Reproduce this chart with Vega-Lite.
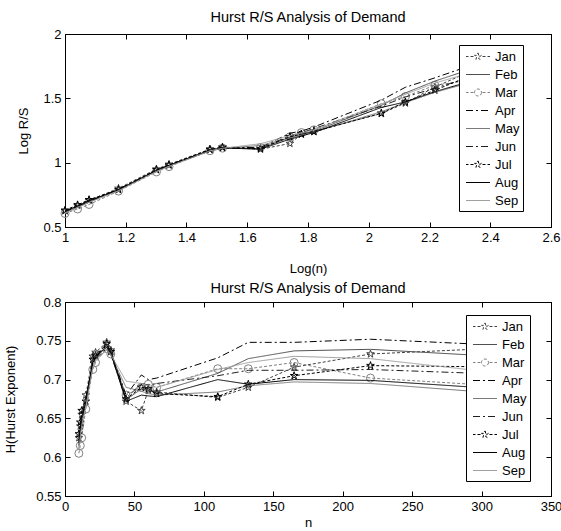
{
  "$schema": "https://vega.github.io/schema/vega-lite/v6.json",
  "padding": {"left": 3, "top": 9, "right": 0, "bottom": 0},
  "config": {
    "font": "Liberation Sans",
    "view": {"stroke": "black", "strokeWidth": 1},
    "axis": {"grid": false, "domainColor": "black", "domainWidth": 1, "tickColor": "black", "tickSize": -5, "tickWidth": 1, "labelColor": "black", "labelFontSize": 13, "labelFont": "Liberation Sans", "labelPadding": 9, "labelFlush": false, "labelOverlap": false, "titleFont": "Liberation Sans", "titleFontSize": 13, "titleFontWeight": "normal", "titleColor": "black"},
    "title": {"font": "Liberation Sans", "fontSize": 14.5, "fontWeight": "normal", "color": "black", "offset": 3, "baseline": "alphabetic"},
    "legend": {"strokeColor": "black", "fillColor": "white", "padding": 3, "rowPadding": 2, "labelOffset": 16, "symbolSize": 256, "symbolStrokeWidth": 1, "labelFontSize": 13, "labelFont": "Liberation Sans", "labelColor": "black", "zindex": 1}
  },
  "datasets": {
    "hurst": [
      {"m":"Jan","n":10,"ln":1,"h":0.625,"r":0.625},
      {"m":"Jan","n":11,"ln":1.0414,"h":0.640,"r":0.666},
      {"m":"Jan","n":12,"ln":1.0792,"h":0.655,"r":0.707},
      {"m":"Jan","n":15,"ln":1.1761,"h":0.680,"r":0.800},
      {"m":"Jan","n":20,"ln":1.301,"h":0.730,"r":0.950},
      {"m":"Jan","n":22,"ln":1.3424,"h":0.735,"r":0.987},
      {"m":"Jan","n":30,"ln":1.4771,"h":0.748,"r":1.105},
      {"m":"Jan","n":33,"ln":1.5185,"h":0.738,"r":1.121},
      {"m":"Jan","n":44,"ln":1.6435,"h":0.672,"r":1.104},
      {"m":"Jan","n":55,"ln":1.7404,"h":0.660,"r":1.149},
      {"m":"Jan","n":60,"ln":1.7782,"h":0.686,"r":1.220},
      {"m":"Jan","n":66,"ln":1.8195,"h":0.684,"r":1.245},
      {"m":"Jan","n":110,"ln":2.0414,"h":0.677,"r":1.382},
      {"m":"Jan","n":132,"ln":2.1206,"h":0.690,"r":1.463},
      {"m":"Jan","n":165,"ln":2.2175,"h":0.716,"r":1.588},
      {"m":"Jan","n":220,"ln":2.3424,"h":0.733,"r":1.717},
      {"m":"Jan","n":330,"ln":2.5185,"h":0.742,"r":1.869},
      {"m":"Feb","n":10,"ln":1,"h":0.620,"r":0.620},
      {"m":"Feb","n":11,"ln":1.0414,"h":0.636,"r":0.662},
      {"m":"Feb","n":12,"ln":1.0792,"h":0.650,"r":0.701},
      {"m":"Feb","n":15,"ln":1.1761,"h":0.672,"r":0.790},
      {"m":"Feb","n":20,"ln":1.301,"h":0.724,"r":0.942},
      {"m":"Feb","n":22,"ln":1.3424,"h":0.730,"r":0.980},
      {"m":"Feb","n":30,"ln":1.4771,"h":0.742,"r":1.096},
      {"m":"Feb","n":33,"ln":1.5185,"h":0.735,"r":1.116},
      {"m":"Feb","n":44,"ln":1.6435,"h":0.674,"r":1.108},
      {"m":"Feb","n":55,"ln":1.7404,"h":0.688,"r":1.197},
      {"m":"Feb","n":60,"ln":1.7782,"h":0.686,"r":1.220},
      {"m":"Feb","n":66,"ln":1.8195,"h":0.684,"r":1.245},
      {"m":"Feb","n":110,"ln":2.0414,"h":0.708,"r":1.445},
      {"m":"Feb","n":132,"ln":2.1206,"h":0.727,"r":1.542},
      {"m":"Feb","n":165,"ln":2.2175,"h":0.737,"r":1.634},
      {"m":"Feb","n":220,"ln":2.3424,"h":0.739,"r":1.731},
      {"m":"Feb","n":330,"ln":2.5185,"h":0.728,"r":1.833},
      {"m":"Mar","n":10,"ln":1,"h":0.605,"r":0.605},
      {"m":"Mar","n":11,"ln":1.0414,"h":0.615,"r":0.640},
      {"m":"Mar","n":12,"ln":1.0792,"h":0.625,"r":0.675},
      {"m":"Mar","n":15,"ln":1.1761,"h":0.662,"r":0.779},
      {"m":"Mar","n":20,"ln":1.301,"h":0.713,"r":0.928},
      {"m":"Mar","n":22,"ln":1.3424,"h":0.722,"r":0.969},
      {"m":"Mar","n":30,"ln":1.4771,"h":0.740,"r":1.093},
      {"m":"Mar","n":33,"ln":1.5185,"h":0.733,"r":1.113},
      {"m":"Mar","n":44,"ln":1.6435,"h":0.680,"r":1.118},
      {"m":"Mar","n":55,"ln":1.7404,"h":0.690,"r":1.201},
      {"m":"Mar","n":60,"ln":1.7782,"h":0.694,"r":1.234},
      {"m":"Mar","n":66,"ln":1.8195,"h":0.690,"r":1.255},
      {"m":"Mar","n":110,"ln":2.0414,"h":0.714,"r":1.458},
      {"m":"Mar","n":132,"ln":2.1206,"h":0.714,"r":1.514},
      {"m":"Mar","n":165,"ln":2.2175,"h":0.722,"r":1.601},
      {"m":"Mar","n":220,"ln":2.3424,"h":0.702,"r":1.644},
      {"m":"Mar","n":330,"ln":2.5185,"h":0.690,"r":1.738},
      {"m":"Apr","n":10,"ln":1,"h":0.618,"r":0.618},
      {"m":"Apr","n":11,"ln":1.0414,"h":0.634,"r":0.660},
      {"m":"Apr","n":12,"ln":1.0792,"h":0.648,"r":0.699},
      {"m":"Apr","n":15,"ln":1.1761,"h":0.676,"r":0.795},
      {"m":"Apr","n":20,"ln":1.301,"h":0.722,"r":0.939},
      {"m":"Apr","n":22,"ln":1.3424,"h":0.730,"r":0.980},
      {"m":"Apr","n":30,"ln":1.4771,"h":0.744,"r":1.099},
      {"m":"Apr","n":33,"ln":1.5185,"h":0.736,"r":1.118},
      {"m":"Apr","n":44,"ln":1.6435,"h":0.680,"r":1.118},
      {"m":"Apr","n":55,"ln":1.7404,"h":0.706,"r":1.229},
      {"m":"Apr","n":60,"ln":1.7782,"h":0.700,"r":1.245},
      {"m":"Apr","n":66,"ln":1.8195,"h":0.702,"r":1.277},
      {"m":"Apr","n":110,"ln":2.0414,"h":0.728,"r":1.486},
      {"m":"Apr","n":132,"ln":2.1206,"h":0.748,"r":1.586},
      {"m":"Apr","n":165,"ln":2.2175,"h":0.748,"r":1.659},
      {"m":"Apr","n":220,"ln":2.3424,"h":0.752,"r":1.761},
      {"m":"Apr","n":330,"ln":2.5185,"h":0.743,"r":1.871},
      {"m":"May","n":10,"ln":1,"h":0.612,"r":0.612},
      {"m":"May","n":11,"ln":1.0414,"h":0.628,"r":0.654},
      {"m":"May","n":12,"ln":1.0792,"h":0.642,"r":0.693},
      {"m":"May","n":15,"ln":1.1761,"h":0.668,"r":0.786},
      {"m":"May","n":20,"ln":1.301,"h":0.718,"r":0.934},
      {"m":"May","n":22,"ln":1.3424,"h":0.726,"r":0.975},
      {"m":"May","n":30,"ln":1.4771,"h":0.738,"r":1.090},
      {"m":"May","n":33,"ln":1.5185,"h":0.731,"r":1.110},
      {"m":"May","n":44,"ln":1.6435,"h":0.690,"r":1.134},
      {"m":"May","n":55,"ln":1.7404,"h":0.685,"r":1.192},
      {"m":"May","n":60,"ln":1.7782,"h":0.682,"r":1.213},
      {"m":"May","n":66,"ln":1.8195,"h":0.680,"r":1.237},
      {"m":"May","n":110,"ln":2.0414,"h":0.684,"r":1.396},
      {"m":"May","n":132,"ln":2.1206,"h":0.692,"r":1.467},
      {"m":"May","n":165,"ln":2.2175,"h":0.697,"r":1.546},
      {"m":"May","n":220,"ln":2.3424,"h":0.695,"r":1.628},
      {"m":"May","n":330,"ln":2.5185,"h":0.680,"r":1.713},
      {"m":"Jun","n":10,"ln":1,"h":0.615,"r":0.615},
      {"m":"Jun","n":11,"ln":1.0414,"h":0.630,"r":0.656},
      {"m":"Jun","n":12,"ln":1.0792,"h":0.645,"r":0.696},
      {"m":"Jun","n":15,"ln":1.1761,"h":0.670,"r":0.788},
      {"m":"Jun","n":20,"ln":1.301,"h":0.720,"r":0.937},
      {"m":"Jun","n":22,"ln":1.3424,"h":0.727,"r":0.976},
      {"m":"Jun","n":30,"ln":1.4771,"h":0.740,"r":1.093},
      {"m":"Jun","n":33,"ln":1.5185,"h":0.732,"r":1.112},
      {"m":"Jun","n":44,"ln":1.6435,"h":0.676,"r":1.111},
      {"m":"Jun","n":55,"ln":1.7404,"h":0.695,"r":1.210},
      {"m":"Jun","n":60,"ln":1.7782,"h":0.693,"r":1.232},
      {"m":"Jun","n":66,"ln":1.8195,"h":0.695,"r":1.265},
      {"m":"Jun","n":110,"ln":2.0414,"h":0.705,"r":1.439},
      {"m":"Jun","n":132,"ln":2.1206,"h":0.712,"r":1.510},
      {"m":"Jun","n":165,"ln":2.2175,"h":0.712,"r":1.579},
      {"m":"Jun","n":220,"ln":2.3424,"h":0.713,"r":1.670},
      {"m":"Jun","n":330,"ln":2.5185,"h":0.706,"r":1.778},
      {"m":"Jul","n":10,"ln":1,"h":0.630,"r":0.630},
      {"m":"Jul","n":11,"ln":1.0414,"h":0.645,"r":0.672},
      {"m":"Jul","n":12,"ln":1.0792,"h":0.660,"r":0.712},
      {"m":"Jul","n":15,"ln":1.1761,"h":0.672,"r":0.790},
      {"m":"Jul","n":20,"ln":1.301,"h":0.726,"r":0.945},
      {"m":"Jul","n":22,"ln":1.3424,"h":0.731,"r":0.981},
      {"m":"Jul","n":30,"ln":1.4771,"h":0.746,"r":1.102},
      {"m":"Jul","n":33,"ln":1.5185,"h":0.736,"r":1.118},
      {"m":"Jul","n":44,"ln":1.6435,"h":0.675,"r":1.109},
      {"m":"Jul","n":55,"ln":1.7404,"h":0.690,"r":1.201},
      {"m":"Jul","n":60,"ln":1.7782,"h":0.688,"r":1.223},
      {"m":"Jul","n":66,"ln":1.8195,"h":0.682,"r":1.241},
      {"m":"Jul","n":110,"ln":2.0414,"h":0.678,"r":1.384},
      {"m":"Jul","n":132,"ln":2.1206,"h":0.694,"r":1.472},
      {"m":"Jul","n":165,"ln":2.2175,"h":0.705,"r":1.563},
      {"m":"Jul","n":220,"ln":2.3424,"h":0.718,"r":1.682},
      {"m":"Jul","n":330,"ln":2.5185,"h":0.716,"r":1.803},
      {"m":"Aug","n":10,"ln":1,"h":0.622,"r":0.622},
      {"m":"Aug","n":11,"ln":1.0414,"h":0.637,"r":0.663},
      {"m":"Aug","n":12,"ln":1.0792,"h":0.652,"r":0.704},
      {"m":"Aug","n":15,"ln":1.1761,"h":0.670,"r":0.788},
      {"m":"Aug","n":20,"ln":1.301,"h":0.722,"r":0.939},
      {"m":"Aug","n":22,"ln":1.3424,"h":0.729,"r":0.979},
      {"m":"Aug","n":30,"ln":1.4771,"h":0.742,"r":1.096},
      {"m":"Aug","n":33,"ln":1.5185,"h":0.734,"r":1.115},
      {"m":"Aug","n":44,"ln":1.6435,"h":0.672,"r":1.104},
      {"m":"Aug","n":55,"ln":1.7404,"h":0.680,"r":1.183},
      {"m":"Aug","n":60,"ln":1.7782,"h":0.679,"r":1.207},
      {"m":"Aug","n":66,"ln":1.8195,"h":0.678,"r":1.234},
      {"m":"Aug","n":110,"ln":2.0414,"h":0.700,"r":1.429},
      {"m":"Aug","n":132,"ln":2.1206,"h":0.694,"r":1.472},
      {"m":"Aug","n":165,"ln":2.2175,"h":0.700,"r":1.552},
      {"m":"Aug","n":220,"ln":2.3424,"h":0.699,"r":1.637},
      {"m":"Aug","n":330,"ln":2.5185,"h":0.686,"r":1.728},
      {"m":"Sep","n":10,"ln":1,"h":0.610,"r":0.610},
      {"m":"Sep","n":11,"ln":1.0414,"h":0.625,"r":0.651},
      {"m":"Sep","n":12,"ln":1.0792,"h":0.640,"r":0.691},
      {"m":"Sep","n":15,"ln":1.1761,"h":0.665,"r":0.782},
      {"m":"Sep","n":20,"ln":1.301,"h":0.716,"r":0.932},
      {"m":"Sep","n":22,"ln":1.3424,"h":0.724,"r":0.972},
      {"m":"Sep","n":30,"ln":1.4771,"h":0.739,"r":1.092},
      {"m":"Sep","n":33,"ln":1.5185,"h":0.732,"r":1.112},
      {"m":"Sep","n":44,"ln":1.6435,"h":0.698,"r":1.147},
      {"m":"Sep","n":55,"ln":1.7404,"h":0.695,"r":1.210},
      {"m":"Sep","n":60,"ln":1.7782,"h":0.692,"r":1.231},
      {"m":"Sep","n":66,"ln":1.8195,"h":0.690,"r":1.255},
      {"m":"Sep","n":110,"ln":2.0414,"h":0.713,"r":1.456},
      {"m":"Sep","n":132,"ln":2.1206,"h":0.722,"r":1.531},
      {"m":"Sep","n":165,"ln":2.2175,"h":0.730,"r":1.619},
      {"m":"Sep","n":220,"ln":2.3424,"h":0.727,"r":1.703},
      {"m":"Sep","n":330,"ln":2.5185,"h":0.705,"r":1.776}
    ]
  },
  "data": {"name": "hurst"},
  "spacing": 4,
  "resolve": {"scale": {"color": "independent", "strokeDash": "independent", "shape": "independent"}, "legend": {"color": "independent"}},
  "vconcat": [
    {
      "width": 486,
      "height": 193,
      "title": {"text": "Hurst R/S Analysis of Demand"},
      "resolve": {"scale": {"x": "independent", "y": "independent"}},
      "layer": [
        {
          "transform": [{"filter": {"field": "m", "oneOf": ["Jan", "Mar", "Jul"]}}, {"filter": "datum.n < 300"}],
          "mark": {"type": "point", "filled": false, "strokeWidth": 1, "size": 64, "opacity": 1},
          "encoding": {
            "x": {"field": "ln", "type": "quantitative", "scale": {"domain": [1, 2.6], "nice": false, "zero": false},
                  "axis": {"orient": "top", "values": [1, 1.2, 1.4, 1.6, 1.8, 2, 2.2, 2.4, 2.6], "labels": false, "title": null}},
            "y": {"field": "r", "type": "quantitative", "scale": {"domain": [0.5, 2], "nice": false, "zero": false},
                  "axis": {"orient": "right", "values": [0.5, 1, 1.5, 2], "labels": false, "title": null}},
            "color": {"field": "m", "type": "nominal",
                      "scale": {"domain": ["Jan","Feb","Mar","Apr","May","Jun","Jul","Aug","Sep"], "range": ["#404040","#505050","#808080","#000000","#7a7a7a","#202020","#000000","#000000","#a0a0a0"]}},
            "shape": {"field": "m", "type": "nominal",
                      "scale": {"domain": ["Jan", "Mar", "Jul"], "range": ["M0,-1L0.225,-0.309L0.951,-0.309L0.363,0.118L0.588,0.809L0,0.382L-0.588,0.809L-0.363,0.118L-0.951,-0.309L-0.225,-0.309Z", "circle", "M0,-1L0.225,-0.309L0.951,-0.309L0.363,0.118L0.588,0.809L0,0.382L-0.588,0.809L-0.363,0.118L-0.951,-0.309L-0.225,-0.309Z"]},
                      "legend": null}
          }
        },
        {
          "transform": [{"filter": "datum.n < 300"}],
          "mark": {"type": "line", "strokeWidth": 1},
          "encoding": {
            "x": {"field": "ln", "type": "quantitative", "scale": {"domain": [1, 2.6], "nice": false, "zero": false},
                  "axis": {"orient": "bottom", "values": [1, 1.2, 1.4, 1.6, 1.8, 2, 2.2, 2.4, 2.6], "format": "~g", "title": "Log(n)", "titleX": 243, "titleY": 45.5, "titleBaseline": "alphabetic", "titleAlign": "center"}},
            "y": {"field": "r", "type": "quantitative", "scale": {"domain": [0.5, 2], "nice": false, "zero": false},
                  "axis": {"orient": "left", "values": [0.5, 1, 1.5, 2], "format": "~g", "title": "Log R/S", "titleX": -42, "titleY": 96.5, "titleBaseline": "middle", "titleAlign": "center", "titleAngle": -90}},
            "color": {"field": "m", "type": "nominal",
                      "scale": {"domain": ["Jan","Feb","Mar","Apr","May","Jun","Jul","Aug","Sep"], "range": ["#404040","#505050","#808080","#000000","#7a7a7a","#202020","#000000","#000000","#a0a0a0"]},
                      "legend": {"orient": "none", "legendX": 394, "legendY": 11, "title": null, "zindex": 1, "fillColor": "white", "strokeColor": "black", "labelExpr": "datum.label + '     '",
                                 "encode": {"symbols": {"update": {
                                   "shape": {"signal": "datum.value === 'Jan' || datum.value === 'Jul' ? 'M-0.5625,0L-0.25,0M0,0L0.375,0M1.5,0L1.875,0M2.125,0L2.4375,0M0.9375,-0.45L1.0385,-0.139L1.366,-0.139L1.1015,0.053L1.2025,0.364L0.9375,0.172L0.6725,0.364L0.7735,0.053L0.5095,-0.139L0.8365,-0.139Z' : datum.value === 'Mar' ? 'M-0.5625,0L-0.25,0M0,0L0.375,0M1.5,0L1.875,0M2.125,0L2.4375,0M1.3775,0A0.44,0.44,0,1,1,0.4975,0A0.44,0.44,0,1,1,1.3775,0Z' : 'M-0.5625,0L2.4375,0'"},
                                   "strokeDash": {"signal": "datum.value === 'Apr' || datum.value === 'Jun' ? [9,4,3,8] : [1,0]"},
                                   "fill": {"value": "transparent"},
                                   "strokeWidth": {"value": 1},
                                   "size": {"value": 256}
                                 }}}}},
            "strokeDash": {"field": "m", "type": "nominal",
                           "scale": {"domain": ["Jan","Feb","Mar","Apr","May","Jun","Jul","Aug","Sep"], "range": [[3,2],[1,0],[3,2],[7,3,2,3],[1,0],[7,3,2,3],[3,2],[1,0],[1,0]]},
                           "legend": null}
          }
        }
      ]
    },
    {
      "width": 486,
      "height": 194,
      "title": {"text": "Hurst R/S Analysis of Demand", "offset": 0},
      "resolve": {"scale": {"x": "independent", "y": "independent"}},
      "layer": [
        {
          "transform": [{"filter": {"field": "m", "oneOf": ["Jan", "Mar", "Jul"]}}, {"filter": "datum.n < 300"}],
          "mark": {"type": "point", "filled": false, "strokeWidth": 1, "size": 64, "opacity": 1},
          "encoding": {
            "x": {"field": "n", "type": "quantitative", "scale": {"domain": [0, 350], "nice": false, "zero": false},
                  "axis": {"orient": "top", "values": [0, 50, 100, 150, 200, 250, 300, 350], "labels": false, "title": null}},
            "y": {"field": "h", "type": "quantitative", "scale": {"domain": [0.55, 0.8], "nice": false, "zero": false},
                  "axis": {"orient": "right", "values": [0.55, 0.6, 0.65, 0.7, 0.75, 0.8], "labels": false, "title": null}},
            "color": {"field": "m", "type": "nominal",
                      "scale": {"domain": ["Jan","Feb","Mar","Apr","May","Jun","Jul","Aug","Sep"], "range": ["#404040","#505050","#808080","#000000","#7a7a7a","#202020","#000000","#000000","#a0a0a0"]}},
            "shape": {"field": "m", "type": "nominal",
                      "scale": {"domain": ["Jan", "Mar", "Jul"], "range": ["M0,-1L0.225,-0.309L0.951,-0.309L0.363,0.118L0.588,0.809L0,0.382L-0.588,0.809L-0.363,0.118L-0.951,-0.309L-0.225,-0.309Z", "circle", "M0,-1L0.225,-0.309L0.951,-0.309L0.363,0.118L0.588,0.809L0,0.382L-0.588,0.809L-0.363,0.118L-0.951,-0.309L-0.225,-0.309Z"]},
                      "legend": null}
          }
        },
        {
          "mark": {"type": "line", "strokeWidth": 1},
          "encoding": {
            "x": {"field": "n", "type": "quantitative", "scale": {"domain": [0, 350], "nice": false, "zero": false},
                  "axis": {"orient": "bottom", "values": [0, 50, 100, 150, 200, 250, 300, 350], "format": "d", "title": "n", "titleX": 243, "titleY": 30, "titleBaseline": "alphabetic", "titleAlign": "center"}},
            "y": {"field": "h", "type": "quantitative", "scale": {"domain": [0.55, 0.8], "nice": false, "zero": false},
                  "axis": {"orient": "left", "values": [0.55, 0.6, 0.65, 0.7, 0.75, 0.8], "format": "~g", "title": "H(Hurst Exponent)", "titleX": -55, "titleY": 97, "titleBaseline": "middle", "titleAlign": "center", "titleAngle": -90}},
            "color": {"field": "m", "type": "nominal",
                      "scale": {"domain": ["Jan","Feb","Mar","Apr","May","Jun","Jul","Aug","Sep"], "range": ["#404040","#505050","#808080","#000000","#7a7a7a","#202020","#000000","#000000","#a0a0a0"]},
                      "legend": {"orient": "none", "legendX": 401, "legendY": 13, "title": null, "zindex": 1, "fillColor": "white", "strokeColor": "black", "labelExpr": "datum.label + '     '",
                                 "encode": {"symbols": {"update": {
                                   "shape": {"signal": "datum.value === 'Jan' || datum.value === 'Jul' ? 'M-0.5625,0L-0.25,0M0,0L0.375,0M1.5,0L1.875,0M2.125,0L2.4375,0M0.9375,-0.45L1.0385,-0.139L1.366,-0.139L1.1015,0.053L1.2025,0.364L0.9375,0.172L0.6725,0.364L0.7735,0.053L0.5095,-0.139L0.8365,-0.139Z' : datum.value === 'Mar' ? 'M-0.5625,0L-0.25,0M0,0L0.375,0M1.5,0L1.875,0M2.125,0L2.4375,0M1.3775,0A0.44,0.44,0,1,1,0.4975,0A0.44,0.44,0,1,1,1.3775,0Z' : 'M-0.5625,0L2.4375,0'"},
                                   "strokeDash": {"signal": "datum.value === 'Apr' || datum.value === 'Jun' ? [9,4,3,8] : [1,0]"},
                                   "fill": {"value": "transparent"},
                                   "strokeWidth": {"value": 1},
                                   "size": {"value": 256}
                                 }}}}},
            "strokeDash": {"field": "m", "type": "nominal",
                           "scale": {"domain": ["Jan","Feb","Mar","Apr","May","Jun","Jul","Aug","Sep"], "range": [[3,2],[1,0],[3,2],[7,3,2,3],[1,0],[7,3,2,3],[3,2],[1,0],[1,0]]},
                           "legend": null}
          }
        }
      ]
    }
  ]
}
